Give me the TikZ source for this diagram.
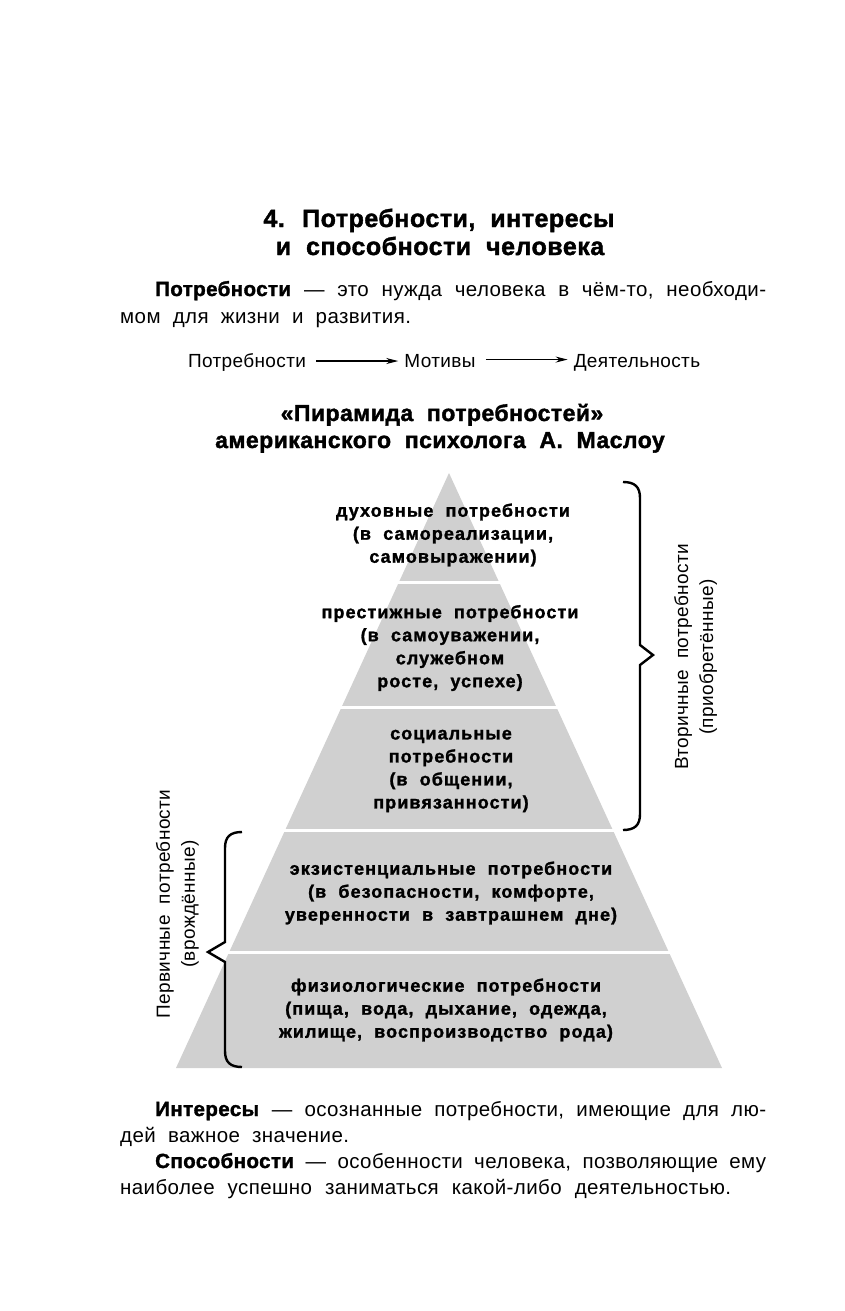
\documentclass[tikz,border=0pt]{standalone}
\usepackage{fontspec}
\setmainfont{Liberation Sans}
\newfontfamily\titlefont[LetterSpace=2,WordSpace=1.9,BoldFeatures={FakeBold=1.6}]{Liberation Sans}
\newfontfamily\bodyfont[LetterSpace=2,WordSpace=2,BoldFeatures={FakeBold=1.6}]{Liberation Sans}
\newfontfamily\lvlfont[LetterSpace=6,WordSpace=2,BoldFeatures={FakeBold=1.4}]{Liberation Sans}
\usetikzlibrary{arrows.meta}
\definecolor{pyrgray}{HTML}{D0D0D0}
\begin{document}
\begin{tikzpicture}[x=1pt,y=-1pt,
  titletext/.style={font=\titlefont\bfseries\fontsize{25}{28}\selectfont, inner sep=0, anchor=base},
  subtext/.style={font=\titlefont\bfseries\fontsize{23}{28}\selectfont, inner sep=0, anchor=base},
  bodytext/.style={font=\bodyfont\fontsize{20.5}{26}\selectfont, inner sep=0, anchor=base west},
  flowtext/.style={font=\bodyfont\fontsize{19}{22}\selectfont, inner sep=0, anchor=base},
  flowarrow/.style={line width=1.1pt, -{Stealth[length=12pt,width=6pt]}, shorten <=10pt, shorten >=6pt},
  lvltext/.style={font=\lvlfont\bfseries\fontsize{18}{23}\selectfont, align=center, inner sep=0},
  sidetext/.style={font=\bodyfont\fontsize{19}{25}\selectfont, rotate=90, inner sep=0},
  bracepath/.style={line width=2.4pt, line join=miter, line cap=butt}
]
\useasboundingbox (0,0) rectangle (844,1311);

% Title
\node[titletext] (t1) at (439,227) {4. Потребности, интересы};
\node[titletext] (t2) at (440,255) {и способности человека};

% Definition
\node[bodytext] (p1) at (155,296) {\makebox[611pt][s]{\textbf{Потребности} — это нужда человека в чём-то, необходи-}};
\node[bodytext] (p2) at (120,323) {мом для жизни и развития.};

% Flow
\node[flowtext] (f1) at (247,367) {Потребности};
\node[flowtext] (f2) at (440,367) {Мотивы};
\node[flowtext] (f3) at (637,367) {Деятельность};
\draw[flowarrow] (f1.east) ++(0,-1) coordinate (a1) -- (a1 -| f2.west);
\draw[flowarrow] (f2.east) ++(0,-1) coordinate (a2) -- (a2 -| f3.west);

% Subtitle
\node[subtext] (s1) at (442,421) {«Пирамида потребностей»};
\node[subtext] (s2) at (440,448) {американского психолога А. Маслоу};

% Pyramid
\begin{scope}
  \clip (449,473) -- (722,1068) -- (176,1068) -- cycle;
  \fill[pyrgray] (150,470) rectangle (750,580.5);
  \fill[pyrgray] (150,583.5) rectangle (750,705.5);
  \fill[pyrgray] (150,708.5) rectangle (750,828.5);
  \fill[pyrgray] (150,831.5) rectangle (750,950.5);
  \fill[pyrgray] (150,953.5) rectangle (750,1070);
\end{scope}

\node[lvltext] (l1) at (453,535) {духовные потребности\\(в самореализации,\\самовыражении)};
\node[lvltext] (l2) at (450,648) {престижные потребности\\(в самоуважении,\\служебном\\росте, успехе)};
\node[lvltext] (l3) at (451,771) {социальные\\потребности\\(в общении,\\привязанности)};
\node[lvltext] (l4) at (451,893) {экзистенциальные потребности\\(в безопасности, комфорте,\\уверенности в завтрашнем дне)};
\node[lvltext] (l5) at (446,1010) {физиологические потребности\\(пища, вода, дыхание, одежда,\\жилище, воспроизводство рода)};

% Right brace
\draw[bracepath] (623,482) .. controls (635,482) and (640,487) .. (640,498)
  -- (640,645) -- (653,655) -- (640,665) -- (640,814)
  .. controls (640,825) and (635,830) .. (623,830);
\node[sidetext] (r1) at (683,657) {Вторичные потребности};
\node[sidetext] (r2) at (708,657) {(приобретённые)};

% Left brace
\draw[bracepath] (242,832) .. controls (230,832) and (225,837) .. (225,848)
  -- (225,942) -- (208,952) -- (225,962) -- (225,1051)
  .. controls (225,1062) and (230,1067) .. (242,1067);
\node[sidetext] (q1) at (165,904) {Первичные потребности};
\node[sidetext] (q2) at (190,904) {(врождённые)};

% Bottom text
\node[bodytext] (b1) at (155,1116) {\makebox[611pt][s]{\textbf{Интересы} — осознанные потребности, имеющие для лю-}};
\node[bodytext] (b2) at (120,1142) {дей важное значение.};
\node[bodytext] (b3) at (155,1168) {\makebox[611pt][s]{\textbf{Способности} — особенности человека, позволяющие ему}};
\node[bodytext] (b4) at (120,1194) {\makebox[611pt][s]{наиболее успешно заниматься какой-либо деятельностью.}};
\end{tikzpicture}
\end{document}
